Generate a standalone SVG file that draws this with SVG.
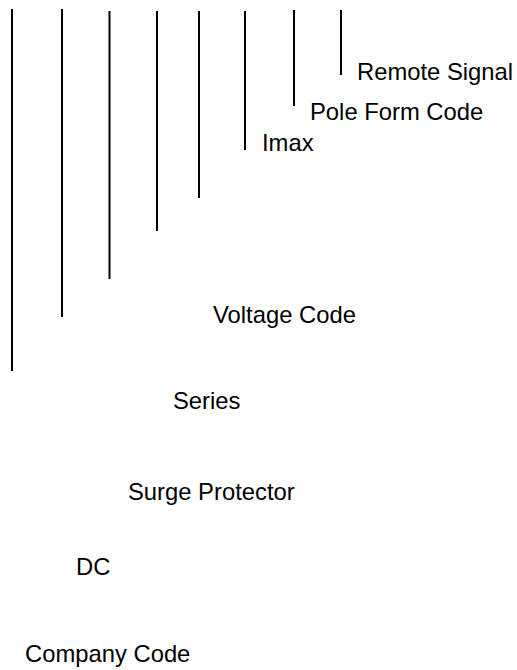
<svg xmlns="http://www.w3.org/2000/svg" width="517" height="670" viewBox="0 0 517 670">
<style>
.c line{stroke:#000;stroke-width:2}
text{font-family:"Liberation Sans",Arial,sans-serif;font-size:23.8px;fill:#000}
</style>
<rect width="517" height="670" fill="#fff"/>
<g id="connectors" class="c">
<line x1="12" y1="9" x2="12" y2="371"/>
<line x1="62" y1="9" x2="62" y2="317"/>
<line x1="109.5" y1="11" x2="109.5" y2="279"/>
<line x1="157" y1="11" x2="157" y2="231"/>
<line x1="199" y1="11" x2="199" y2="198"/>
<line x1="245" y1="11" x2="245" y2="150"/>
<line x1="294" y1="10" x2="294" y2="106"/>
<line x1="341" y1="10" x2="341" y2="75"/>
</g>
<g id="remote-signal"><text x="357" y="80">Remote Signal</text></g>
<g id="pole-form-code"><text x="310" y="120">Pole Form Code</text></g>
<g id="imax"><text x="262" y="151">Imax</text></g>
<g id="voltage-code"><text x="213" y="323">Voltage Code</text></g>
<g id="series"><text x="173" y="408.5">Series</text></g>
<g id="surge-protector"><text x="128" y="500">Surge Protector</text></g>
<g id="dc"><text x="76" y="575">DC</text></g>
<g id="company-code"><text x="25" y="662">Company Code</text></g>
</svg>
